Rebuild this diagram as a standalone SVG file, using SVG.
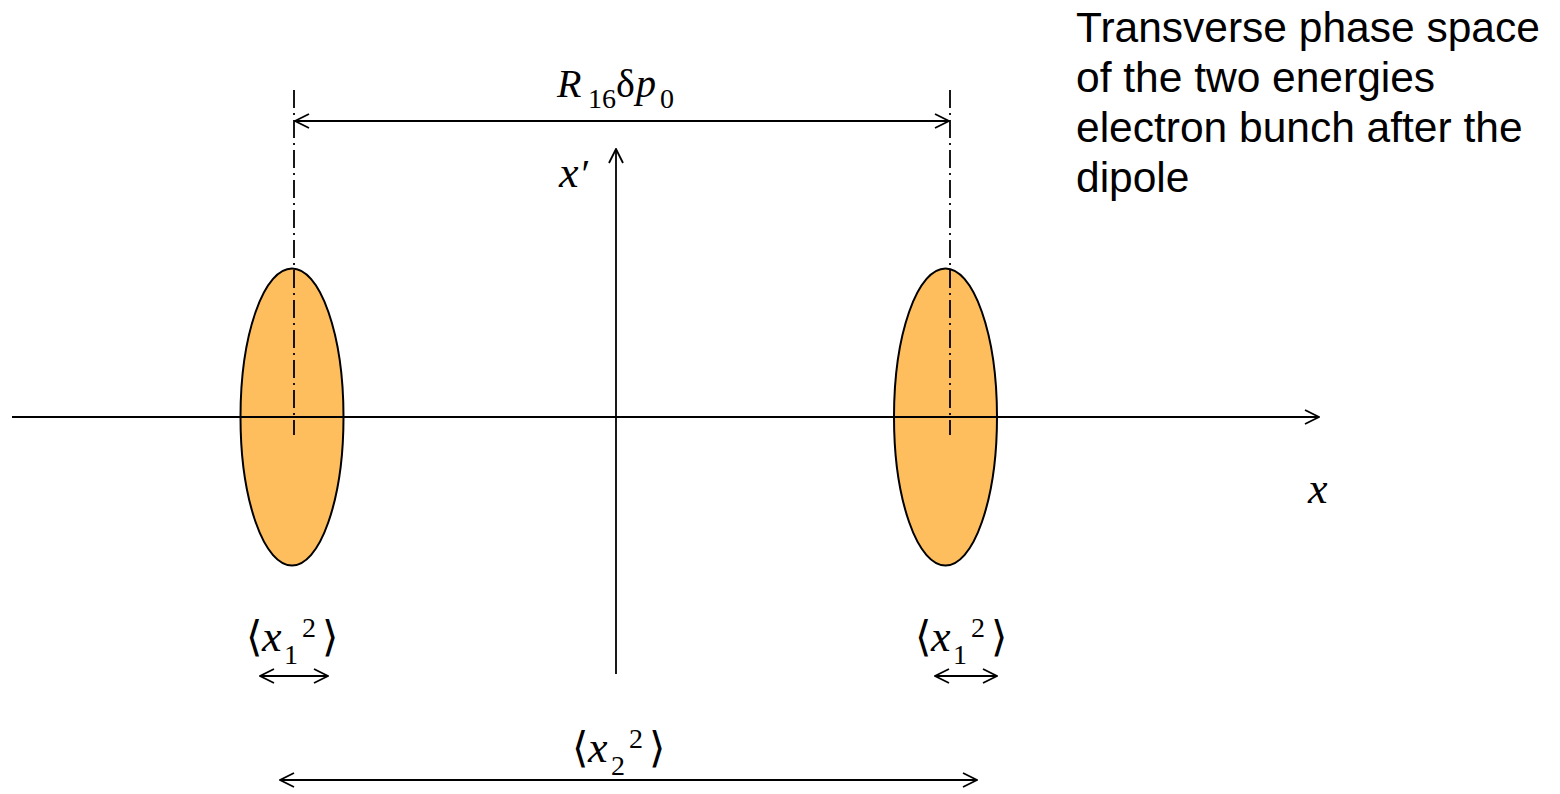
<svg xmlns="http://www.w3.org/2000/svg" width="1560" height="794" viewBox="0 0 1560 794">
<defs>
<style>
.ln{stroke:#000;stroke-width:1.8;fill:none}
.dd{stroke:#000;stroke-width:1.8;fill:none;stroke-dasharray:18 5 2 5}
.bunch{fill:#FFBE5E;stroke:#000;stroke-width:2}
.m{font-family:"Liberation Serif","DejaVu Serif",serif;font-style:italic;fill:#000}
.r{font-family:"Liberation Serif","DejaVu Serif",serif;font-style:normal;fill:#000}
.t{font-family:"Liberation Sans",Arial,sans-serif;font-size:42.5px;fill:#000}
</style>
<marker id="ah" viewBox="0 0 16 16" refX="15" refY="8" markerWidth="16" markerHeight="16" markerUnits="userSpaceOnUse" orient="auto-start-reverse">
<path d="M1,1 L15,8 L1,15" fill="none" stroke="#000" stroke-width="1.8"/>
</marker>
</defs>
<rect width="1560" height="794" fill="#fff"/>
<g id="bunch1"><ellipse class="bunch" cx="292" cy="417" rx="51.5" ry="148.5"/></g>
<g id="bunch2"><ellipse class="bunch" cx="945.5" cy="417" rx="51.5" ry="148.5"/></g>
<g id="connectors">
<line class="ln" x1="12" y1="417" x2="1319" y2="417" marker-end="url(#ah)"/>
<line class="ln" x1="616" y1="674" x2="616" y2="149" marker-end="url(#ah)"/>
<line class="dd" x1="294" y1="90" x2="294" y2="435"/>
<line class="dd" x1="950" y1="90" x2="950" y2="435"/>
<line class="ln" x1="295" y1="121" x2="949" y2="121" marker-start="url(#ah)" marker-end="url(#ah)"/>
<line class="ln" x1="260" y1="676" x2="328" y2="676" marker-start="url(#ah)" marker-end="url(#ah)"/>
<line class="ln" x1="935" y1="676" x2="997" y2="676" marker-start="url(#ah)" marker-end="url(#ah)"/>
<line class="ln" x1="280" y1="780" x2="977" y2="780" marker-start="url(#ah)" marker-end="url(#ah)"/>
</g>
<g id="labels">
<text class="m" font-size="40" y="97"><tspan x="557">R</tspan><tspan class="r" font-size="28" x="588" y="108">16</tspan><tspan class="r" x="616" y="97">δ</tspan><tspan x="636">p</tspan><tspan class="r" font-size="28" x="660" y="108">0</tspan></text>
<text class="m" x="559" y="187" font-size="44">x<tspan class="r" font-size="40" dx="3">′</tspan></text>
<text class="m" x="1308" y="503" font-size="44">x</text>
<text class="r" font-size="42" y="651"><tspan x="246">⟨</tspan><tspan class="m" font-size="44" x="262">x</tspan><tspan font-size="28" x="284" y="664">1</tspan><tspan font-size="28" x="302" y="637">2</tspan><tspan x="322" y="651">⟩</tspan></text>
<text class="r" font-size="42" y="651"><tspan x="915">⟨</tspan><tspan class="m" font-size="44" x="931">x</tspan><tspan font-size="28" x="953" y="664">1</tspan><tspan font-size="28" x="971" y="637">2</tspan><tspan x="991" y="651">⟩</tspan></text>
<text class="r" font-size="42" y="762"><tspan x="572">⟨</tspan><tspan class="m" font-size="44" x="588">x</tspan><tspan font-size="28" x="611" y="775">2</tspan><tspan font-size="28" x="629" y="748">2</tspan><tspan x="649" y="762">⟩</tspan></text>
<text class="t" x="1076" y="42">Transverse phase space</text>
<text class="t" x="1076" y="92">of the two energies</text>
<text class="t" x="1076" y="142">electron bunch after the</text>
<text class="t" x="1076" y="192">dipole</text>
</g>
</svg>
